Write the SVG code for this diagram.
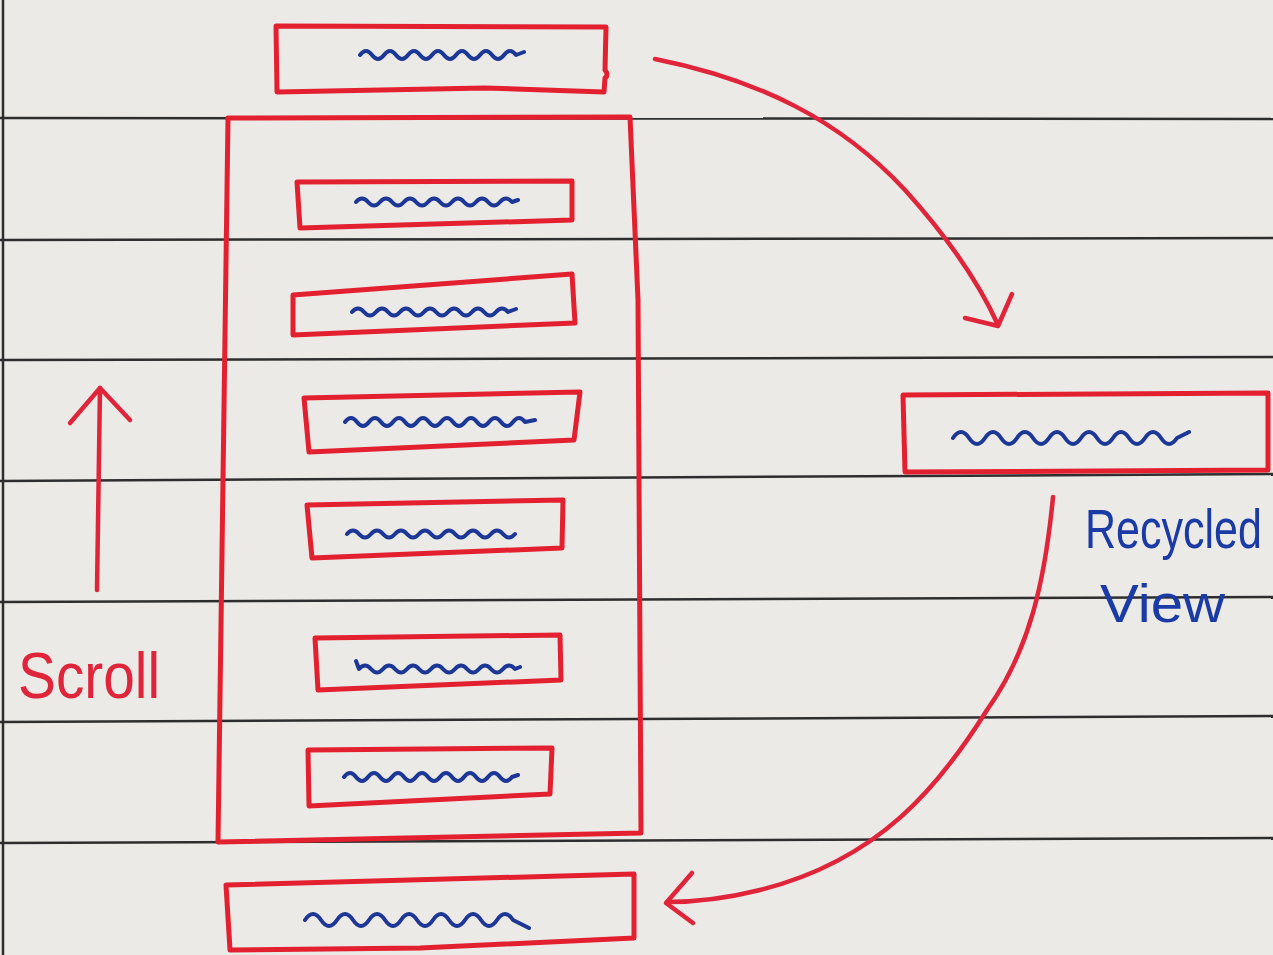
<svg xmlns="http://www.w3.org/2000/svg" width="1273" height="955" viewBox="0 0 1273 955">
<style>
.paper{fill:#ebeae7}
.rule{stroke:#2e2e2e;stroke-width:2.5;fill:none}
.box{fill:none;stroke:#e3202f;stroke-width:5;stroke-linejoin:round;stroke-linecap:round}
.sq{fill:none;stroke:#1d3796;stroke-width:4;stroke-linecap:round;stroke-linejoin:round}
.conn{fill:none;stroke:#e0243a;stroke-width:4.5;stroke-linecap:round;stroke-linejoin:round}
.red{fill:#e0243a;font-family:"Liberation Sans",Arial,sans-serif}
.blue{fill:#1a3aa6;font-family:"Liberation Sans",Arial,sans-serif}
</style>
<rect class="paper" x="0" y="0" width="1273" height="955"/>
<g id="paper-lines">
<path class="rule" d="M3 0 V955"/>
<path class="rule" d="M0 118 L1273 119"/>
<path class="rule" d="M0 240 L1273 238"/>
<path class="rule" d="M0 360 L1273 357"/>
<path class="rule" d="M0 481 L1273 474"/>
<path class="rule" d="M0 602 L1273 597"/>
<path class="rule" d="M0 722 L1273 716"/>
<path class="rule" d="M0 843 L1273 838"/>
</g>
<g id="top-item">
<path class="box" d="M276 26 L606 27 L605 70 Q609 75 605 78 L604 92 L485 88 L277 92 Z"/>
<path class="sq" d="M360 55 q6 -8 12 0 t12 0 t12 0 t12 0 t12 0 t12 0 t12 0 t12 0 t12 0 t12 0 t12 0 t12 0 t12 0 l8 -3"/>
</g>
<g id="recycler-container">
<path class="box" d="M228 118 L630 117 L638 300 L641 833 L218 842 Z"/>
</g>
<g id="item-1">
<path class="box" d="M297 182 L572 181 L572 220 L300 228 Z"/>
<path class="sq" d="M356 202 q6 -7 12 0 t12 0 t12 0 t12 0 t12 0 t12 0 t12 0 t12 0 t12 0 t12 0 t12 0 t12 0 t12 0 l6 -2"/>
</g>
<g id="item-2">
<path class="box" d="M293 295 L572 274 L575 323 L293 335 Z"/>
<path class="sq" d="M352 312 q6 -7 12 0 t12 0 t12 0 t12 0 t12 0 t12 0 t12 0 t12 0 t12 0 t12 0 t12 0 t12 0 t12 0 l8 -3"/>
</g>
<g id="item-3">
<path class="box" d="M304 398 L580 392 L574 440 L309 452 Z"/>
<path class="sq" d="M345 422 q6 -8 12 0 t12 0 t12 0 t12 0 t12 0 t12 0 t12 0 t12 0 t12 0 t12 0 t12 0 t12 0 t12 0 t12 0 t12 0 l10 -2"/>
</g>
<g id="item-4">
<path class="box" d="M307 505 L563 500 L562 548 L312 558 Z"/>
<path class="sq" d="M347 534 q6 -7 12 0 t12 0 t12 0 t12 0 t12 0 t12 0 t12 0 t12 0 t12 0 t12 0 t12 0 t12 0 t12 0 t12 0"/>
</g>
<g id="item-5">
<path class="box" d="M315 638 L560 635 L561 680 L318 690 Z"/>
<path class="sq" d="M356 661 l3 8 q6 -7 12 0 t12 0 t12 0 t12 0 t12 0 t12 0 t12 0 t12 0 t12 0 t12 0 t12 0 t12 0 t12 0 l5 -2"/>
</g>
<g id="item-6">
<path class="box" d="M308 750 L552 748 L550 794 L309 806 Z"/>
<path class="sq" d="M344 777 q6 -8 12 0 t12 0 t12 0 t12 0 t12 0 t12 0 t12 0 t12 0 t12 0 t12 0 t12 0 t12 0 t12 0 t12 0 l6 -2"/>
</g>
<g id="bottom-item">
<path class="box" d="M226 885 L634 874 L634 938 L420 948 L230 950 Z"/>
<path class="sq" d="M305 920 q8 -12 16 0 t16 0 t16 0 t16 0 t16 0 t16 0 t16 0 t16 0 t16 0 t16 0 t16 0 t16 0 t16 0 l16 8"/>
</g>
<g id="recycled-item">
<path class="box" d="M903 395 L1268 393 L1268 470 L905 472 Z"/>
<path class="sq" d="M953 438 q8 -12 16 0 t16 0 t16 0 t16 0 t16 0 t16 0 t16 0 t16 0 t16 0 t16 0 t16 0 t16 0 t16 0 t16 0 l12 -6"/>
</g>
<g id="scroll-label">
<text class="red" x="18" y="698" font-size="64" textLength="142" lengthAdjust="spacingAndGlyphs">Scroll</text>
</g>
<g id="recycled-view-label">
<text class="blue" transform="translate(1085 548) scale(1 1.3)" x="0" y="0" font-size="43">Recycled</text>
<text class="blue" x="1100" y="622" font-size="54" textLength="125" lengthAdjust="spacingAndGlyphs">View</text>
</g>
<g id="connectors">
<path class="conn" d="M655 59 C760 80 840 120 905 190 C950 240 980 285 998 325"/>
<path class="conn" d="M965 318 L998 326 L1012 294"/>
<path class="conn" d="M1053 497 C1045 580 1030 650 987 710 C940 785 880 860 760 890 C720 900 690 902 667 902"/>
<path class="conn" d="M692 873 L666 903 L693 923"/>
<path class="conn" d="M97 590 L100 388"/>
<path class="conn" d="M70 423 L100 388 L130 420"/>
</g>
</svg>
